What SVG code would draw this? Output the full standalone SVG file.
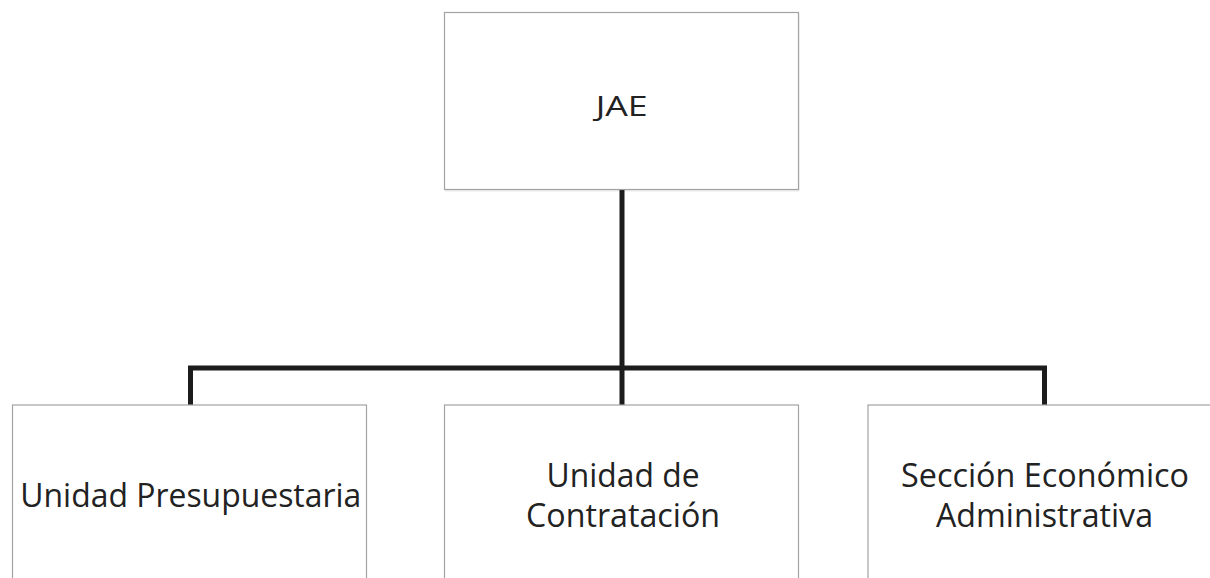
<svg xmlns="http://www.w3.org/2000/svg" width="1210" height="578" viewBox="0 0 1210 578">
<defs>
<style>
.box{fill:#ffffff;stroke:#a3a3a3;stroke-width:1.2}
.shadow{fill:#000000;opacity:0.08}
.lbl{font-family:"Open Sans","Noto Sans","DejaVu Sans",sans-serif;fill:#222222;text-anchor:middle}
.big{font-size:32px}
.top{font-size:27px}
.conn{fill:none;stroke:#1c1c1c;stroke-width:5;stroke-linejoin:miter;stroke-linecap:butt}
</style>
</defs>
<rect width="1210" height="578" fill="#ffffff"/>
<g id="connectors">
<path class="conn" d="M622,189 V405"/>
<path class="conn" d="M190.5,405 V368 H1044.5 V405"/>
</g>
<g id="node-jae">
<rect class="shadow" x="445.5" y="14.5" width="354" height="177"/>
<rect class="box" x="444.5" y="12.5" width="354" height="177"/>
<text class="lbl top" x="621.7" y="116" textLength="52" lengthAdjust="spacingAndGlyphs">JAE</text>
</g>
<g id="node-unidad-presupuestaria">
<rect class="box" x="12.5" y="405" width="354" height="200"/>
<text class="lbl big" x="190.8" y="507" textLength="341" lengthAdjust="spacingAndGlyphs">Unidad Presupuestaria</text>
</g>
<g id="node-unidad-contratacion">
<rect class="box" x="444.5" y="405" width="354" height="200"/>
<text class="lbl big" x="623" y="487" textLength="153" lengthAdjust="spacingAndGlyphs">Unidad de</text>
<text class="lbl big" x="623" y="526.5" textLength="194" lengthAdjust="spacingAndGlyphs">Contratación</text>
</g>
<g id="node-seccion-economico">
<rect class="box" x="868" y="405" width="354" height="200"/>
<text class="lbl big" x="1045" y="487" textLength="288" lengthAdjust="spacingAndGlyphs">Sección Económico</text>
<text class="lbl big" x="1044.5" y="526.5" textLength="217" lengthAdjust="spacingAndGlyphs">Administrativa</text>
</g>
</svg>
